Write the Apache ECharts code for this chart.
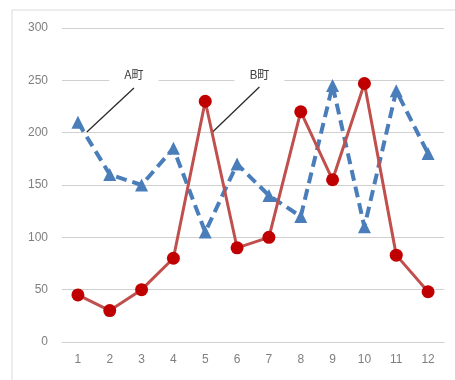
<!DOCTYPE html>
<html>
<head>
<meta charset="utf-8">
<script src="https://cdn.jsdelivr.net/npm/echarts@6/dist/echarts.min.js"></script>
<style>html,body{margin:0;padding:0;background:#fff}#c{width:455px;height:380px}</style>
</head>
<body>
<div id="c"></div>
<script>
var categories = ['1','2','3','4','5','6','7','8','9','10','11','12'];
var townA = [210,160,150,185,105,170,140,120,245,110,240,180];
var townB = [45,30,50,80,230,90,100,220,155,247,83,48];
var yTicks = {min:0, max:300, interval:50};
var leaderA = [[0.28,200.6],[1.76,242.7]];
var leaderB = [[4.23,200.6],[5.7,243.6]];
var nameA = 'A町', nameB = 'B町';

var chart = echarts.init(document.getElementById('c'));
var font = '"Liberation Sans", "Noto Sans CJK JP", sans-serif';
function leader(pts, name){
  return {
    type:'line', xAxisIndex:1, yAxisIndex:0, silent:true, z:3,
    symbol:'none', lineStyle:{color:'#2b2b2b', width:1.3},
    data: pts.map(function(p,i){
      return i===1 ? {value:p, symbol:'circle', symbolSize:0.1, label:{show:true, position:'top', distance:6, formatter:name,
        color:'#404040', fontSize:12, fontFamily:'"Noto Sans CJK JP", sans-serif', backgroundColor:'#fff', padding:[1,15]}} : {value:p};
    })
  };
}
chart.setOption({
  backgroundColor:'#fff',
  animation:false,
  graphic:[{type:'rect', shape:{x:12,y:10,width:500,height:420}, style:{fill:'none', stroke:'#d9d9d9', lineWidth:1}, z:-1}],
  grid:{left:62,right:11,top:28,bottom:38},
  xAxis:[{
    type:'category', data:categories, boundaryGap:true,
    axisLine:{lineStyle:{color:'#d0d0d0'}}, axisTick:{show:false},
    axisLabel:{color:'#7f7f7f', fontSize:12, margin:12, fontFamily:font}
  },{
    type:'value', min:-0.5, max:11.5, show:false
  }],
  yAxis:{
    type:'value', min:yTicks.min, max:yTicks.max, interval:yTicks.interval,
    axisLine:{show:false}, axisTick:{show:false},
    splitLine:{lineStyle:{color:'#d0d0d0', width:1}},
    axisLabel:{color:'#7f7f7f', fontSize:12, margin:14, fontFamily:font}
  },
  series:[
    {name:nameA, type:'line', data:townA, symbol:'triangle', symbolSize:13, z:4,
     itemStyle:{color:'#4a7ebb'}, lineStyle:{color:'#4a7ebb', width:4, type:[11,6]}},
    {name:nameB, type:'line', data:townB, symbol:'circle', symbolSize:13, z:5,
     itemStyle:{color:'#c00000'}, lineStyle:{color:'#c0504d', width:3}},
    leader(leaderA, nameA),
    leader(leaderB, nameB)
  ]
});
</script>
</body>
</html>
